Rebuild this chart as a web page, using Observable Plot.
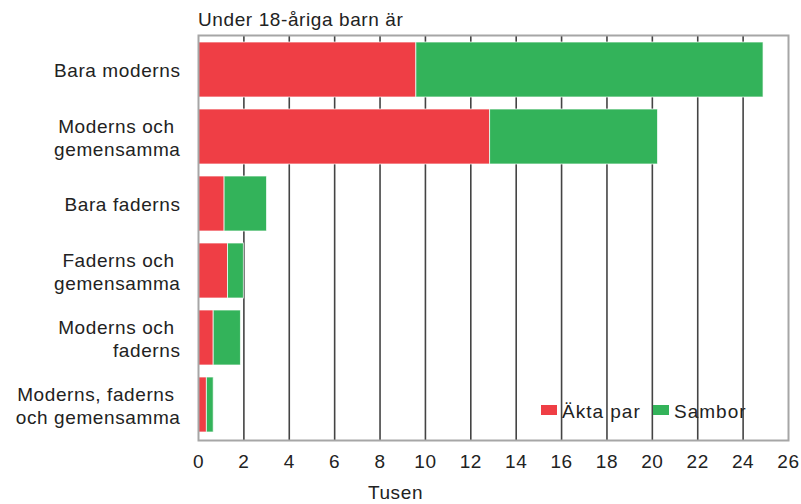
<!DOCTYPE html>
<html>
<head>
<meta charset="utf-8">
<script src="https://cdn.jsdelivr.net/npm/d3@7"></script>
<script src="https://cdn.jsdelivr.net/npm/@observablehq/plot@0.6"></script>
<style>
  html, body { margin: 0; padding: 0; background: #fff; }
  body { width: 801px; height: 504px; overflow: hidden; font-family: "Liberation Sans", Arial, sans-serif; color: #222; }
  #wrap { position: relative; width: 801px; height: 504px; }
  #title { height: 32px; box-sizing: border-box; padding: 10px 0 0 198px; font-size: 19px; line-height: 20px; letter-spacing: 0.6px; }
  #chart svg { display: block; }
  .lg { position: absolute; font-size: 19px; line-height: 20px; letter-spacing: 1px; }
  .sw { position: absolute; width: 16px; height: 10px; }
</style>
</head>
<body>
<div id="wrap">
  <div id="title">Under 18-åriga barn är</div>
  <div id="chart"></div>
  <div id="legend"></div>
</div>
<script>
const categories = [
  "Bara moderns",
  "Moderns och\u00a0\ngemensamma",
  "Bara faderns",
  "Faderns och\u00a0\ngemensamma",
  "Moderns och\u00a0\nfaderns",
  "Moderns, faderns\u00a0\noch gemensamma"
];
const seriesNames = ["Äkta par", "Sambor"];
const aktaPar = [9.6, 12.85, 1.15, 1.3, 0.67, 0.37];
const sambor  = [15.3, 7.4, 1.87, 0.7, 1.2, 0.3];
const xTicks = [0, 2, 4, 6, 8, 10, 12, 14, 16, 18, 20, 22, 24, 26];
const colors = ["#ef3e45", "#33b35a"];
const xLabel = "Tusen";

const data = [];
categories.forEach((c, i) => {
  data.push({cat: c, series: seriesNames[0], value: aktaPar[i]});
  data.push({cat: c, series: seriesNames[1], value: sambor[i]});
});

const chart = Plot.plot({
  width: 801,
  height: 472,
  marginLeft: 198,
  marginRight: 13,
  marginTop: 3,
  marginBottom: 64,
  style: {fontFamily: "'Liberation Sans', Arial, sans-serif", fontSize: "19px", color: "#222", background: "#fff", letterSpacing: "0.6px"},
  x: {domain: [0, 26], ticks: xTicks},
  y: {domain: categories, paddingInner: 0.175, paddingOuter: 0.1},
  color: {domain: seriesNames, range: colors},
  marks: [
    Plot.gridX(xTicks.slice(1, -1), {stroke: "#444", strokeOpacity: 1, strokeWidth: 1.6}),
    Plot.barX(data, {x: "value", y: "cat", fill: "series", stroke: "white", strokeWidth: 1, strokeOpacity: 0.7, order: seriesNames}),
    Plot.frame({stroke: "#a6a6a6", strokeWidth: 2}),
    Plot.axisX({ticks: xTicks, tickSize: 0, tickPadding: 14, label: null}),
    Plot.axisY({tickSize: 0, tickPadding: 18, label: null, lineHeight: 1.2}),
    Plot.text([xLabel], {text: d => d, frameAnchor: "bottom-left", dx: 197, dy: 52, textAnchor: "middle", lineAnchor: "middle"})
  ]
});
document.getElementById("chart").appendChild(chart);

// Legend inside plot area (bottom right)
const legend = document.getElementById("legend");
const legendPos = [{sw: 541, tx: 562}, {sw: 653, tx: 674}];
seriesNames.forEach((name, i) => {
  const sw = document.createElement("div");
  sw.className = "sw";
  sw.style.left = legendPos[i].sw + "px";
  sw.style.top = "405px";
  sw.style.background = colors[i];
  legend.appendChild(sw);
  const tx = document.createElement("div");
  tx.className = "lg";
  tx.style.left = legendPos[i].tx + "px";
  tx.style.top = "402px";
  tx.textContent = name;
  legend.appendChild(tx);
});
</script>
</body>
</html>
